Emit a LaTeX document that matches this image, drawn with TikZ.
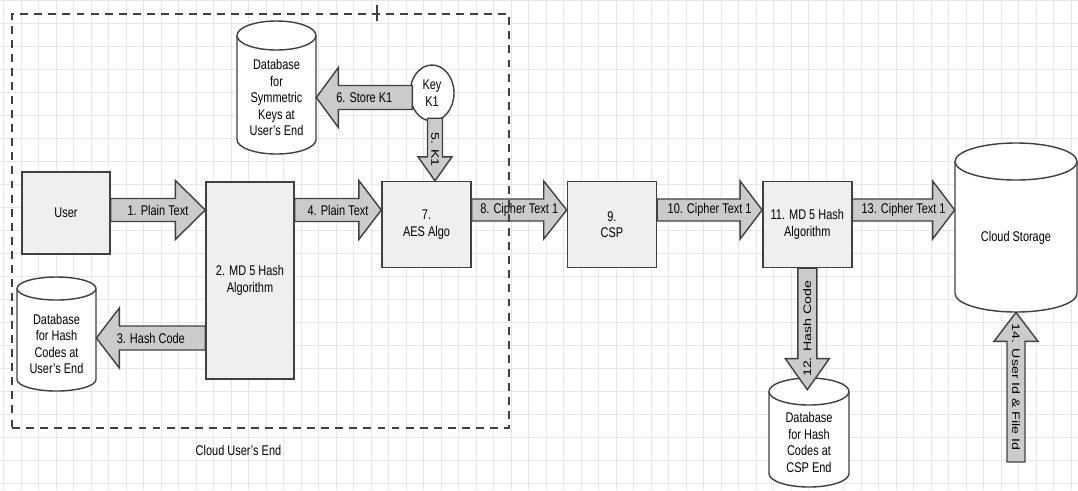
\documentclass[tikz,border=0pt]{standalone}
\usepackage{fontspec}
\setmainfont{Liberation Sans}[FakeStretch=0.78]
\newfontfamily\sidefont{Liberation Sans}[FakeStretch=1.3]
\usetikzlibrary{positioning, calc, shapes, shapes.geometric}
\definecolor{boxline}{HTML}{404040}
\definecolor{boxfill}{HTML}{EFEFEF}
\definecolor{arrfill}{HTML}{CBCBCB}
\definecolor{gridcol}{HTML}{E6E6E6}
\tikzset{box/.style={draw=boxline, fill=boxfill, line width=0.8pt, minimum width=1.78cm, minimum height=1.72cm, align=center, inner sep=1pt}}
\tikzset{dbline/.style={draw=boxline, fill=white, line width=0.8pt}}
\tikzset{dbtext/.style={align=center, yshift=-0.2cm, inner sep=0pt}}
\tikzset{keyball/.style={ellipse, draw=boxline, fill=white, line width=0.8pt, minimum width=0.88cm, minimum height=1.12cm, inner sep=0pt, align=center}}
\tikzset{fatarr/.style={draw=boxline, fill=arrfill, line width=0.8pt, line join=miter}}
\tikzset{arrlbl/.style={inner sep=0pt}}
\tikzset{vlbl/.style={arrlbl, font=\sidefont\fontsize{6.2}{7}\selectfont}}
\tikzset{userend/.style={draw=boxline, line width=1pt, dash pattern=on 4.5pt off 3.5pt}}
\tikzset{gridline/.style={draw=gridcol, line width=0.4pt}}
% [label opts]{tail}{tip}{half shaft}{half head}{head length}{label}
\newcommand\fatarrow[7][]{
		\coordinate (tail) at (#2);
		\coordinate (tip) at (#3);
		\coordinate (neck) at ($(tip)!#6!(tail)$);
		\draw[fatarr] ($(tail)!#4!90:(tip)$) -- ($(neck)!#4!90:(tip)$) -- ($(neck)!#5!90:(tip)$) -- (tip)
			-- ($(neck)!#5!-90:(tip)$) -- ($(neck)!#4!-90:(tip)$) -- ($(tail)!#4!-90:(tip)$) -- cycle;
		\node[arrlbl, #1] at ($(tail)!0.5!(tip)$) {#7};
	}
% {name}{centre}{half width}{half height}{ellipse}{text}
\newcommand\dbnode[6]{
		\filldraw[dbline] ($(#2)+(-#3,#4-#5)$) arc[start angle=180, end angle=0, x radius=#3, y radius=#5]
			-- ($(#2)+(#3,-#4+#5)$) arc[start angle=0, end angle=-180, x radius=#3, y radius=#5] -- cycle;
		\draw[dbline, fill=none] ($(#2)+(-#3,#4-#5)$) arc[start angle=180, end angle=360, x radius=#3, y radius=#5];
		\node[minimum width=2*#3cm, minimum height=2*#4cm, inner sep=0pt, label={[dbtext]center:#6}] (#1) at (#2) {};
	}

\begin{document}
\begin{tikzpicture}[every node/.style={font=\fontsize{8}{9.4}\selectfont}]
			\fill[white] (0,0) rectangle (21.56,-9.8);
			\useasboundingbox (0,0) rectangle (21.56,-9.8);
			\draw[gridline, xstep=0.35, ystep=0.46, shift={(0.07,0)}] (-0.07,-9.8) grid (21.49,0);

			\node[box, minimum width=1.76cm, minimum height=1.64cm] (user) at (1.32,-4.26) {User};
			\node[box, minimum width=1.76cm, minimum height=3.94cm] (md5) at (5.0,-5.61) {2. MD 5 Hash\\Algorithm};
			\node[box] (aes) at (8.53,-4.49) {7.\\AES Algo};
			\node[box, right=1.9 of aes] (csp) {9.\\CSP};
			\node[box, right=2.1 of csp] (hashcsp) {11. MD 5 Hash\\Algorithm};
			\dbnode{cloud}{20.32,-4.55}{1.22}{1.69}{0.37}{Cloud Storage}

			\dbnode{dbkeys}{5.53,-1.75}{0.79}{1.33}{0.29}{Database\\for\\Symmetric\\Keys at\\User's End}
			\node[keyball] (key) at (8.64,-1.86) {Key\\K1};
			\dbnode{dbuser}{1.13,-6.68}{0.79}{1.14}{0.23}{Database\\for Hash\\Codes at\\User's End}
			\dbnode{dbcsp}{16.18,-8.65}{0.8}{1.09}{0.27}{Database\\for Hash\\Codes at\\CSP End}

%			main row
			\coordinate (row) at (0,-4.2);
			\fatarrow{user.east |- row}{md5.west |- row}{0.23cm}{0.59cm}{0.6cm}{1. Plain Text}
			\fatarrow{md5.east |- row}{aes.west |- row}{0.23cm}{0.59cm}{0.45cm}{4. Plain Text}
			\fatarrow{aes.east |- row}{csp.west |- row}{0.22cm}{0.58cm}{0.46cm}{8. Cipher Text 1}
			\fatarrow{csp.east |- row}{hashcsp.west |- row}{0.22cm}{0.58cm}{0.44cm}{10. Cipher Text 1}
			\fatarrow{hashcsp.east |- row}{cloud.west |- row}{0.22cm}{0.58cm}{0.44cm}{13. Cipher Text 1}

			\coordinate (krow) at (0,-1.95);
			\coordinate (kcol) at (8.7,0);
			\coordinate (hrow) at (0,-6.76);
			\fatarrow{$(key.west |- krow)+(0.06,0)$}{dbkeys.east |- krow}{0.24cm}{0.6cm}{0.44cm}{6. Store K1}
			\fatarrow[vlbl, rotate=-90]{$(key.south -| kcol)+(0,0.07)$}{aes.north -| kcol}{0.15cm}{0.34cm}{0.48cm}{5. K1}
			\fatarrow{md5.west |- hrow}{dbuser.east |- hrow}{0.24cm}{0.6cm}{0.46cm}{3. Hash Code}
			\fatarrow[vlbl, rotate=90]{hashcsp.south}{$(dbcsp.north -| hashcsp.south)+(0,-0.24)$}{0.19cm}{0.44cm}{0.62cm}{12. Hash Code}

			\coordinate (idsrc) at (20.32,-9.24);
			\fatarrow[vlbl, rotate=-90]{idsrc}{cloud.south}{0.18cm}{0.44cm}{0.58cm}{14. User Id \& File Id}

			\node[userend, minimum width=9.94cm, minimum height=8.28cm, label={[label distance=0.2cm, xshift=-0.44cm]below:Cloud User's End}] (ue) at (5.21,-4.42) {};
			\draw[boxline, line width=0.8pt] ([xshift=7.32cm, yshift=0.16cm]ue.north west) -- ++(0,-0.32);
		\end{tikzpicture}
\end{document}
